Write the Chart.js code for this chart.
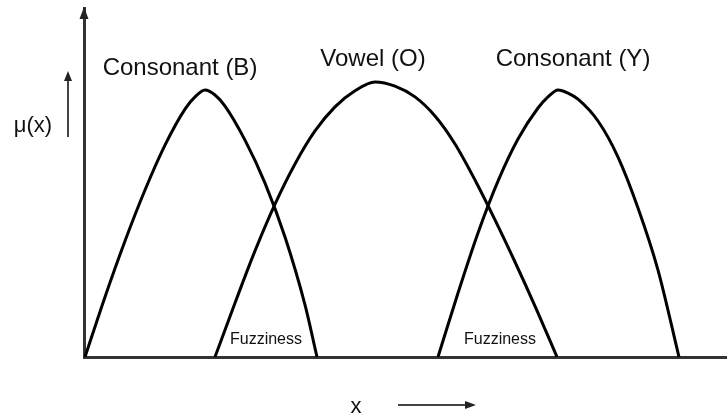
<!DOCTYPE html>
<html>
<head>
<meta charset="utf-8">
<script src="https://cdn.jsdelivr.net/npm/chart.js@4"></script>
<style>
  html,body{margin:0;padding:0;background:#fff;}
  #wrap{width:727px;height:418px;}
</style>
</head>
<body>
<div id="wrap"><canvas id="fuzzyChart" width="727" height="418"></canvas></div>
<script>
/* ===== Data (membership curves) ===== */
const consonantB_x = [1, 21, 41, 61, 81, 101, 111, 121, 131, 141, 161, 181, 201, 221, 233];
const consonantB_y = [0, 0.217, 0.419, 0.603, 0.765, 0.895, 0.939, 0.964, 0.946, 0.906, 0.783, 0.628, 0.433, 0.188, 0];

const vowelO_x = [131, 151, 171, 191, 211, 231, 251, 271, 291, 311, 331, 351, 371, 391, 411, 431, 451, 473];
const vowelO_y = [0, 0.195, 0.383, 0.552, 0.697, 0.816, 0.903, 0.961, 0.993, 0.978, 0.939, 0.870, 0.769, 0.639, 0.495, 0.343, 0.184, 0];

const consonantY_x = [354, 374, 394, 414, 434, 454, 464, 474, 484, 494, 514, 534, 554, 574, 595];
const consonantY_y = [0, 0.231, 0.448, 0.635, 0.787, 0.899, 0.939, 0.964, 0.953, 0.931, 0.852, 0.722, 0.538, 0.314, 0];

const curveNames = ['Consonant (B)', 'Vowel (O)', 'Consonant (Y)'];
const fuzzText = 'Fuzziness';
const yAxisText = 'μ(x)';
const xAxisText = 'x';

const X_MAX = 643, Y_MAX = 1.26;

// label anchors (data units) for the curve names and the overlap notes
const nameAnchors = [{x:96, y:1.018}, {x:289, y:1.05}, {x:489, y:1.05}];
const fuzzAnchors = [{x:182, y:0.047}, {x:416, y:0.047}];

const pts = (xs, ys) => xs.map((x, i) => ({x, y: ys[i]}));

/* ===== Annotation plugin ===== */
const annot = {
  id:'annot',
  afterDraw(chart){
    const {ctx:c, chartArea:{left, top}, scales:{x, y}} = chart;
    c.save();
    // y axis arrowhead
    c.beginPath();
    c.moveTo(left, top - 1);
    c.lineTo(left - 4.5, top + 11);
    c.lineTo(left + 4.5, top + 11);
    c.closePath();
    c.fillStyle = '#222';
    c.fill();

    c.fillStyle = '#111';
    c.textAlign = 'center';
    c.textBaseline = 'alphabetic';
    c.font = '24px "Liberation Sans", Arial, sans-serif';
    curveNames.forEach((t, i) => {
      c.fillText(t, x.getPixelForValue(nameAnchors[i].x), y.getPixelForValue(nameAnchors[i].y));
    });
    c.font = '16px "Liberation Sans", Arial, sans-serif';
    fuzzAnchors.forEach(a => c.fillText(fuzzText, x.getPixelForValue(a.x), y.getPixelForValue(a.y)));

    // μ(x) with small up arrow
    c.font = '22px "Liberation Sans", Arial, sans-serif';
    c.fillText(yAxisText, 33, 132);
    c.lineWidth = 2;
    c.strokeStyle = '#444';
    c.beginPath(); c.moveTo(68, 137); c.lineTo(68, 80); c.stroke();
    c.beginPath(); c.moveTo(68, 71); c.lineTo(64, 81); c.lineTo(72, 81); c.closePath();
    c.fillStyle = '#222'; c.fill();

    // x with right arrow
    c.fillStyle = '#111';
    c.font = '22px "Liberation Sans", Arial, sans-serif';
    c.fillText(xAxisText, 356, 413);
    c.beginPath(); c.moveTo(398, 405); c.lineTo(466, 405); c.stroke();
    c.beginPath(); c.moveTo(476, 405); c.lineTo(465, 401); c.lineTo(465, 409); c.closePath();
    c.fillStyle = '#222'; c.fill();
    c.restore();
  }
};

const lineStyle = {showLine:true, borderColor:'#000', borderWidth:3, pointRadius:0, fill:false, cubicInterpolationMode:'monotone'};

new Chart(document.getElementById('fuzzyChart').getContext('2d'), {
  type:'scatter',
  plugins:[annot],
  data:{datasets:[
    {label:curveNames[0], data:pts(consonantB_x, consonantB_y), ...lineStyle},
    {label:curveNames[1], data:pts(vowelO_x, vowelO_y), ...lineStyle},
    {label:curveNames[2], data:pts(consonantY_x, consonantY_y), ...lineStyle},
  ]},
  options:{
    responsive:false, animation:false,
    layout:{padding:{left:84, top:8, right:0, bottom:61}},
    plugins:{legend:{display:false}, tooltip:{enabled:false}},
    scales:{
      x:{type:'linear', min:0, max:X_MAX, ticks:{display:false}, grid:{display:false, drawTicks:false}, border:{display:true, color:'#333', width:3}},
      y:{type:'linear', min:0, max:Y_MAX, ticks:{display:false}, grid:{display:false, drawTicks:false}, border:{display:true, color:'#333', width:3}}
    }
  }
});
</script>
</body>
</html>
